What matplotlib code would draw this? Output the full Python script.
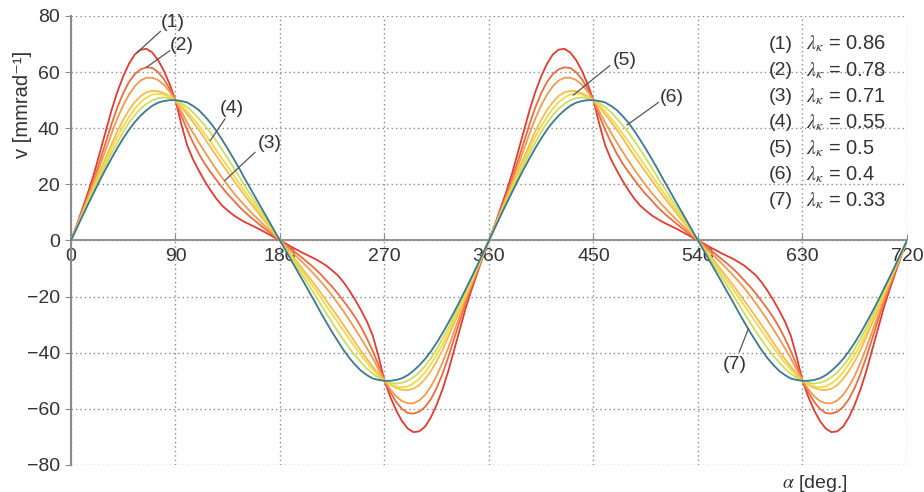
import numpy as np
import matplotlib
matplotlib.use('Agg')
import matplotlib.pyplot as plt

plt.rcParams['font.family'] = ['Liberation Sans', 'DejaVu Sans']
plt.rcParams['mathtext.fontset'] = 'stix'

# Angular velocity v over one crank revolution, sampled every 5 deg (0..360)
alpha_one = list(range(0, 361, 5))

v1 = [0, 5.5, 11.5, 17.5, 24, 31.5, 39, 46.5, 53, 58.5, 63, 66.3, 68, 68.3, 67, 64.3, 60.5, 55.7, 50,
      41.5, 34, 29, 25, 21.3, 18, 15, 12.5, 10.7, 9, 7.7, 6.5, 5.5, 4.5, 3.4, 2.3, 1.1, 0,
      -1.1, -2.3, -3.4, -4.5, -5.5, -6.5, -7.7, -9, -10.7, -12.5, -15, -18, -21.3, -25, -29, -34, -41.5,
      -50, -55.7, -60.5, -64.3, -67, -68.3, -68, -66.3, -63, -58.5, -53, -46.5, -39, -31.5, -24, -17.5,
      -11.5, -5.5, 0]
v2 = [0, 5.3, 10.7, 16.2, 22, 28.5, 35, 41.5, 47.5, 52.5, 56.5, 59.3, 61, 61.7, 61.5, 60, 57.5, 54, 50,
      44.5, 39.5, 35, 31, 27.5, 24.5, 21.7, 19, 16.5, 14.3, 12, 10, 8.2, 6.5, 4.8, 3.2, 1.6, 0,
      -1.6, -3.2, -4.8, -6.5, -8.2, -10, -12, -14.3, -16.5, -19, -21.7, -24.5, -27.5, -31, -35, -39.5,
      -44.5, -50, -54, -57.5, -60, -61.5, -61.7, -61, -59.3, -56.5, -52.5, -47.5, -41.5, -35, -28.5, -22,
      -16.2, -10.7, -5.3, 0]
v3 = [0, 5.1, 10.3, 15.6, 21, 26.7, 32.5, 38.2, 43.5, 48.2, 52, 55, 57, 58, 58, 57.2, 55.5, 53, 50,
      46, 42, 38.5, 35, 31.7, 28.5, 25.4, 22.5, 19.7, 17, 14.6, 12.3, 10.1, 8, 6, 4, 2, 0,
      -2, -4, -6, -8, -10.1, -12.3, -14.6, -17, -19.7, -22.5, -25.4, -28.5, -31.7, -35, -38.5, -42, -46,
      -50, -53, -55.5, -57.2, -58, -58, -57, -55, -52, -48.2, -43.5, -38.2, -32.5, -26.7, -21, -15.6,
      -10.3, -5.1, 0]
v4 = [0, 4.9, 9.8, 14.8, 19.8, 24.7, 29.5, 34.3, 39, 43, 46.5, 49.3, 51.5, 52.8, 53.3, 53.2, 52.5, 51.4, 50,
      47.6, 45, 42.3, 39.5, 36.5, 33.3, 30.3, 27.3, 24.4, 21.5, 18.6, 15.8, 13.1, 10.5, 7.8, 5.2, 2.6, 0,
      -2.6, -5.2, -7.8, -10.5, -13.1, -15.8, -18.6, -21.5, -24.4, -27.3, -30.3, -33.3, -36.5, -39.5, -42.3,
      -45, -47.6, -50, -51.4, -52.5, -53.2, -53.3, -52.8, -51.5, -49.3, -46.5, -43, -39, -34.3, -29.5,
      -24.7, -19.8, -14.8, -9.8, -4.9, 0]
v5 = [0, 4.75, 9.5, 14.3, 19, 23.7, 28.3, 32.8, 37, 40.7, 44, 46.9, 49.3, 50.9, 52, 52.3, 52, 51.2, 50,
      48.2, 46, 43.6, 41, 38.2, 35.3, 32.3, 29.3, 26.3, 23.3, 20.3, 17.3, 14.4, 11.5, 8.6, 5.7, 2.9, 0,
      -2.9, -5.7, -8.6, -11.5, -14.4, -17.3, -20.3, -23.3, -26.3, -29.3, -32.3, -35.3, -38.2, -41, -43.6,
      -46, -48.2, -50, -51.2, -52, -52.3, -52, -50.9, -49.3, -46.9, -44, -40.7, -37, -32.8, -28.3, -23.7,
      -19, -14.3, -9.5, -4.75, 0]
v6 = [0, 4.6, 9.2, 13.7, 18.2, 22.7, 27, 31.1, 35, 38.7, 42, 44.7, 47, 48.7, 50, 50.7, 51, 50.7, 50,
      48.9, 47.5, 45.7, 43.5, 41.1, 38.5, 35.6, 32.5, 29.3, 26, 22.7, 19.3, 16.1, 12.8, 9.6, 6.4, 3.2, 0,
      -3.2, -6.4, -9.6, -12.8, -16.1, -19.3, -22.7, -26, -29.3, -32.5, -35.6, -38.5, -41.1, -43.5, -45.7,
      -47.5, -48.9, -50, -50.7, -51, -50.7, -50, -48.7, -47, -44.7, -42, -38.7, -35, -31.1, -27, -22.7,
      -18.2, -13.7, -9.2, -4.6, 0]
v7 = [0, 4.4, 8.8, 13.1, 17.3, 21.5, 25.5, 29.3, 33, 36.4, 39.5, 42.2, 44.5, 46.4, 48, 49.1, 49.7, 50, 50,
      49.7, 49.2, 48, 46.5, 44.4, 42, 39.2, 36, 32.7, 29.2, 25.6, 21.8, 18.2, 14.5, 10.9, 7.3, 3.6, 0,
      -3.6, -7.3, -10.9, -14.5, -18.2, -21.8, -25.6, -29.2, -32.7, -36, -39.2, -42, -44.4, -46.5, -48,
      -49.2, -49.7, -50, -50, -49.7, -49.1, -48, -46.4, -44.5, -42.2, -39.5, -36.4, -33, -29.3, -25.5,
      -21.5, -17.3, -13.1, -8.8, -4.4, 0]

series = [v1, v2, v3, v4, v5, v6, v7]
labels = ['(1)', '(2)', '(3)', '(4)', '(5)', '(6)', '(7)']
lambdas = ['0.86', '0.78', '0.71', '0.55', '0.5', '0.4', '0.33']
colors = ['#e23b33', '#ec6b3f', '#f29a4f', '#f6bb4a', '#f5d84a', '#cfdc5c', '#3b7891']

# second revolution repeats the first
alpha = np.array(alpha_one + [a + 360 for a in alpha_one[1:]])

fig = plt.figure(figsize=(9.24, 4.92), dpi=100)
ax = fig.add_axes([0.0768, 0.0549, 0.9048, 0.9126])

for v, c in zip(series, colors):
    ax.plot(alpha, v + v[1:], color=c, lw=1.3, zorder=3)

ax.set_xlim(0, 720)
ax.set_ylim(-80, 80)
ax.set_xticks(np.arange(0, 721, 90))
ax.set_yticks(np.arange(-80, 81, 20))

gcol = '#8a8a8a'
ax.grid(True, color=gcol, linestyle=(0, (1, 2.2)), linewidth=1.0)
ax.set_axisbelow(True)

for s in ['top', 'right']:
    ax.spines[s].set_visible(False)
ax.spines['bottom'].set_position(('data', 0))
ax.spines['bottom'].set_color(gcol)
ax.spines['bottom'].set_linewidth(1.3)
ax.spines['left'].set_color(gcol)
ax.spines['left'].set_linewidth(1.5)

ax.tick_params(axis='x', direction='in', length=4, color=gcol, labelsize=14,
               labelcolor='#333333', pad=5.5)
ax.tick_params(axis='y', direction='out', length=4, color=gcol, labelsize=14,
               labelcolor='#333333', pad=4)
ax.set_yticklabels(['\u221280', '\u221260', '\u221240', '\u221220', '0', '20', '40', '60', '80'])

ax.text(-42, 48.5, 'v [mmrad\u207b\u00b9]', rotation=90, ha='center', va='center',
        fontsize=14.5, color='#333333', clip_on=False)
ax.text(641, -86.5, r'$\alpha$ [deg.]', ha='center', va='center', fontsize=14,
        color='#333333', clip_on=False)

# curve labels with leader lines
leaders = {
    '(1)': ((57, 67), (77, 74.5), (88, 77.8)),
    '(2)': ((65, 61.7), (85, 67.6), (95.6, 69.4)),
    '(4)': ((120, 35.6), (132.6, 43.3), (138.4, 46.9)),
    '(3)': ((132.6, 21.4), (158.5, 31.4), (171.4, 34.4)),
    '(5)': ((432.6, 51.8), (464, 62.3), (477, 64)),
    '(6)': ((479, 41.2), (506, 49.2), (517.4, 51)),
    '(7)': ((583.4, -31.4), (575.6, -39.7), (572, -44.2)),
}
for name, (p0, p1, pt) in leaders.items():
    ax.plot([p0[0], p1[0]], [p0[1], p1[1]], color='#555555', lw=0.9, zorder=4)
    ax.text(pt[0], pt[1], name, ha='center', va='center', fontsize=14, color='#333333', zorder=5)

# lambda list
for i, (lab, lam) in enumerate(zip(labels, lambdas)):
    y = 70 - i * 9.3
    ax.text(601, y, lab, ha='left', va='center', fontsize=14, color='#333333')
    ax.text(633, y, r'$\lambda_\kappa$ = ' + lam, ha='left', va='center', fontsize=14.5,
            color='#333333')

fig.savefig('out.png', dpi=100)
